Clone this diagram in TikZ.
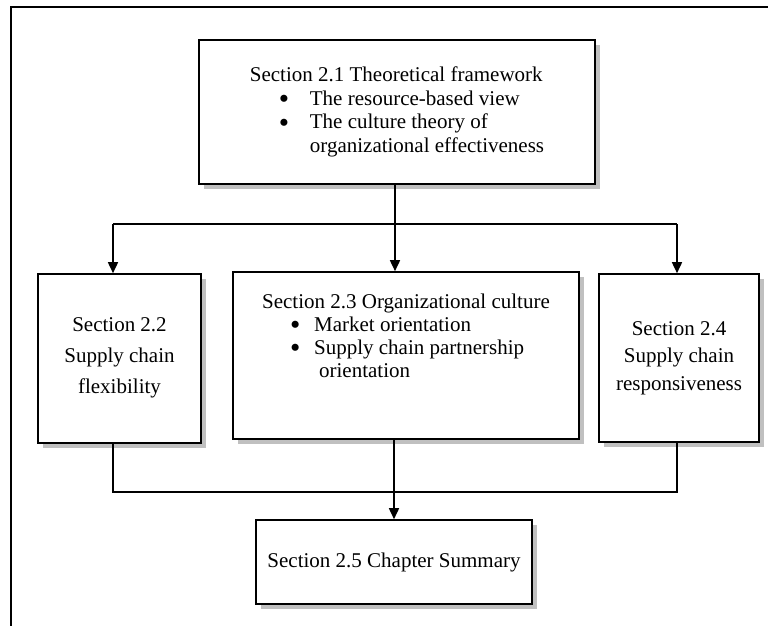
\documentclass[tikz,border=0pt]{standalone}
\usepackage{graphicx}
\usepackage{fontspec}
\setmainfont{Liberation Serif}
\usetikzlibrary{arrows.meta,shadows}
\definecolor{shadowgray}{RGB}{192,192,192}
\tikzset{
  box/.style={draw=black, line width=1.6pt, fill=white, rectangle, inner sep=0pt,
    font=\fontsize{21}{23.5}\selectfont,
    drop shadow={shadow xshift=5pt, shadow yshift=-5pt, fill=shadowgray, opacity=1}},
  sidebox/.style={box, align=center, font=\fontsize{21}{31}\selectfont},
  link/.style={line width=1.6pt},
  arrow/.style={link, -{Triangle[width=10pt,length=11pt]}},
  frame/.style={line width=2.2pt}
}
% a large round bullet followed by its gap
\newcommand{\bul}[1]{\makebox[#1][l]{\raisebox{-0.15em}{\scalebox{1.4}{\textbullet}}}}
\begin{document}
\begin{tikzpicture}[x=1pt,y=-1pt]
  \useasboundingbox (0,0) rectangle (768,626);

  % outer frame, open to the right and bottom
  \coordinate (fa) at (11,640);
  \coordinate (fb) at (11,7);
  \coordinate (fc) at (780,7);
  \draw[frame] (fa) -- (fb) -- (fc);

  % boxes
  \node[box, minimum width=396pt, minimum height=144pt, align=left] (t) at (397,112)
    {Section 2.1 Theoretical framework\\
     \hspace*{29pt}\bul{31pt}The resource-based view\\
     \hspace*{29pt}\bul{31pt}The culture theory of\\
     \hspace*{60pt}organizational effectiveness};

  \node[sidebox, minimum width=163pt, minimum height=169pt] (l) at (119.5,358.5)
    {Section 2.2\\Supply chain\\flexibility\rule[-6pt]{0pt}{6pt}};

  % text block sits in the upper part of this box
  \node[box, minimum width=346pt, minimum height=167pt, align=left,
        font=\fontsize{21}{23}\selectfont] (m) at (406,355.5)
    {Section 2.3 Organizational culture\\
     \hspace*{28pt}\bul{24pt}Market orientation\\
     \hspace*{28pt}\bul{24pt}Supply chain partnership\\
     \hspace*{57pt}orientation\rule[-40pt]{0pt}{40pt}};

  \node[sidebox, minimum width=160pt, minimum height=168pt,
        font=\fontsize{21}{27.5}\selectfont] (r) at (679,358)
    {Section 2.4\\Supply chain\\responsiveness};

  \node[box, minimum width=276pt, minimum height=84pt] (b) at (394,562)
    {Section 2.5 Chapter Summary};

  % junction points
  \coordinate (jt) at (395,224);
  \coordinate (la) at (113,224);
  \coordinate (ra) at (677,224);
  \coordinate (jb) at (394,492);
  \coordinate (lb) at (113,492);
  \coordinate (rb) at (677,492);

  % connectors from the framework box
  \draw[arrow] (t.south -| jt) -- (m.north -| jt);
  \draw[link] (la) -- (ra);
  \draw[arrow] (la) -- (l.north -| la);
  \draw[arrow] (ra) -- (r.north -| ra);

  % connectors into the summary box
  \draw[link] (l.south -| lb) -- (lb) -- (rb) -- (r.south -| rb);
  \draw[arrow] (m.south -| jb) -- (b.north -| jb);
\end{tikzpicture}
\end{document}
